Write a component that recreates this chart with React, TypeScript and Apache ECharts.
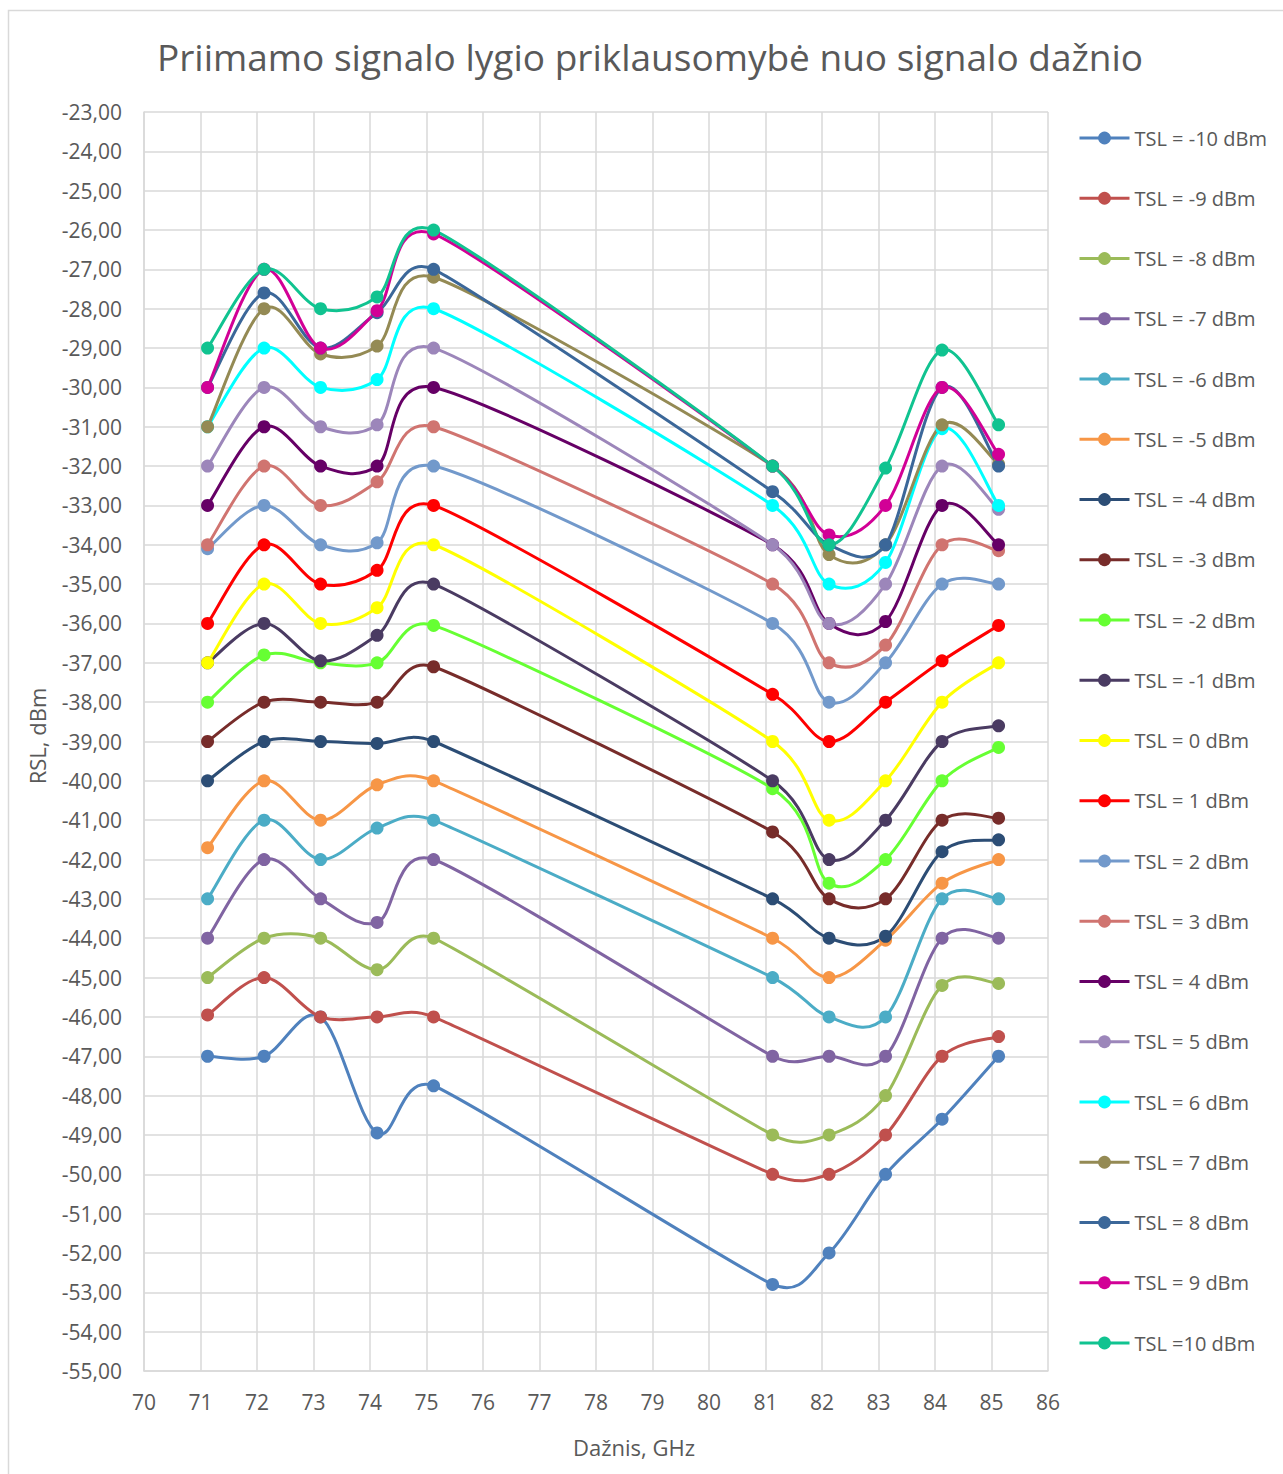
import React, { useEffect, useRef } from "react";
import * as echarts from "echarts";

// Measured frequencies, GHz
const frequencies = [71.125, 72.125, 73.125, 74.125, 75.125, 81.125, 82.125, 83.125, 84.125, 85.125];

// Received signal level (dBm) per transmitted signal level
const rslTslM10 = [-47, -47, -46, -48.95, -47.75, -52.8, -52, -50, -48.6, -47];
const rslTslM9 = [-45.95, -45, -46, -46, -46, -50, -50, -49, -47, -46.5];
const rslTslM8 = [-45, -44, -44, -44.8, -44, -49, -49, -48, -45.2, -45.15];
const rslTslM7 = [-44, -42, -43, -43.6, -42, -47, -47, -47, -44, -44];
const rslTslM6 = [-43, -41, -42, -41.2, -41, -45, -46, -46, -43, -43];
const rslTslM5 = [-41.7, -40, -41, -40.1, -40, -44, -45, -44.05, -42.6, -42];
const rslTslM4 = [-40, -39, -39, -39.05, -39, -43, -44, -43.95, -41.8, -41.5];
const rslTslM3 = [-39, -38, -38, -38, -37.1, -41.3, -43, -43, -41, -40.95];
const rslTslM2 = [-38, -36.8, -37, -37, -36.05, -40.2, -42.6, -42, -40, -39.15];
const rslTslM1 = [-37, -36, -36.95, -36.3, -35, -40, -42, -41, -39, -38.6];
const rslTsl0 = [-37, -35, -36, -35.6, -34, -39, -41, -40, -38, -37];
const rslTsl1 = [-36, -34, -35, -34.65, -33, -37.8, -39, -38, -36.95, -36.05];
const rslTsl2 = [-34.1, -33, -34, -33.95, -32, -36, -38, -37, -35, -35];
const rslTsl3 = [-34, -32, -33, -32.4, -31, -35, -37, -36.55, -34, -34.15];
const rslTsl4 = [-33, -31, -32, -32, -30, -34, -36, -35.95, -33, -34];
const rslTsl5 = [-32, -30, -31, -30.95, -29, -34, -36, -35, -32, -33.1];
const rslTsl6 = [-31, -29, -30, -29.8, -28, -33, -35, -34.45, -31.05, -33];
const rslTsl7 = [-31, -28, -29.15, -28.95, -27.2, -32, -34.25, -34, -30.95, -31.95];
const rslTsl8 = [-30, -27.6, -29, -28.1, -27, -32.65, -34, -34, -30, -32];
const rslTsl9 = [-30, -27, -29, -28.05, -26.1, -32, -33.75, -33, -30, -31.7];
const rslTsl10 = [-29, -27, -28, -27.7, -26, -32, -34, -32.05, -29.05, -30.95];

const seriesNames = [
  "TSL = -10 dBm", "TSL = -9 dBm", "TSL = -8 dBm", "TSL = -7 dBm", "TSL = -6 dBm",
  "TSL = -5 dBm", "TSL = -4 dBm", "TSL = -3 dBm", "TSL = -2 dBm", "TSL = -1 dBm",
  "TSL = 0 dBm", "TSL = 1 dBm", "TSL = 2 dBm", "TSL = 3 dBm", "TSL = 4 dBm",
  "TSL = 5 dBm", "TSL = 6 dBm", "TSL = 7 dBm", "TSL = 8 dBm", "TSL = 9 dBm",
  "TSL =10 dBm",
];

const seriesValues = [
  rslTslM10, rslTslM9, rslTslM8, rslTslM7, rslTslM6, rslTslM5, rslTslM4,
  rslTslM3, rslTslM2, rslTslM1, rslTsl0, rslTsl1, rslTsl2, rslTsl3, rslTsl4,
  rslTsl5, rslTsl6, rslTsl7, rslTsl8, rslTsl9, rslTsl10,
];

const seriesColors = [
  "#4F81BD", "#C0504D", "#9BBB59", "#8064A2", "#4BACC6", "#F79646", "#2C4D75",
  "#772C2A", "#66FF33", "#4A3B62", "#FFFF00", "#FF0000", "#7299CB", "#D07470",
  "#660066", "#9C86BA", "#00FFFF", "#948A54", "#3B6799", "#D20096", "#10C390",
];

const FONT = "'Open Sans', 'Liberation Sans', sans-serif";
const TEXT = "#595959";
const GRID_LINE = "#D9D9D9";

type Pt = number[];

// Smooth Bézier path through pixel points: tangent along (next - prev)/6,
// limited to half of the shorter neighbouring segment.
function smoothPath(pts: Pt[]): string {
  const n = pts.length;
  const dist = (a: Pt, b: Pt) => Math.hypot(b[0] - a[0], b[1] - a[1]);
  const tangents = pts.map((p, i) => {
    const prev = pts[Math.max(i - 1, 0)];
    const next = pts[Math.min(i + 1, n - 1)];
    const vx = next[0] - prev[0];
    const vy = next[1] - prev[1];
    const len = Math.hypot(vx, vy);
    if (len === 0) return [0, 0];
    let L = len / 6;
    if (i > 0) L = Math.min(L, dist(pts[i - 1], p) / 2);
    if (i < n - 1) L = Math.min(L, dist(p, pts[i + 1]) / 2);
    return [(vx / len) * L, (vy / len) * L];
  });
  let d = `M${pts[0][0]},${pts[0][1]}`;
  for (let i = 0; i < n - 1; i++) {
    const p0 = pts[i];
    const p1 = pts[i + 1];
    const c1 = [p0[0] + tangents[i][0], p0[1] + tangents[i][1]];
    const c2 = [p1[0] - tangents[i + 1][0], p1[1] - tangents[i + 1][1]];
    d += ` C${c1[0]},${c1[1]} ${c2[0]},${c2[1]} ${p1[0]},${p1[1]}`;
  }
  return d;
}

export default function App() {
  const ref = useRef<HTMLDivElement>(null);

  useEffect(() => {
    if (!ref.current) return;
    const chart = echarts.init(ref.current, null, { renderer: "svg" });

    const series: any[] = [];
    seriesNames.forEach((name, i) => {
      const values = seriesValues[i];
      const color = seriesColors[i];
      const points = frequencies.map((f, j) => [f, values[j]]);
      // smoothed curve
      series.push({
        type: "custom",
        name: `curve ${name}`,
        coordinateSystem: "cartesian2d",
        data: points,
        encode: { x: 0, y: 1 },
        silent: true,
        renderItem: (params: any, api: any) => {
          if (params.dataIndex !== 0) return null;
          const px = points.map((p) => api.coord(p));
          return {
            type: "path",
            shape: { pathData: smoothPath(px) },
            style: { fill: "none", stroke: color, lineWidth: 3, lineJoin: "round", lineCap: "round" },
          };
        },
      });
      // markers
      series.push({
        name,
        type: "line",
        data: points,
        symbol: "circle",
        symbolSize: 13,
        showSymbol: true,
        lineStyle: { width: 0, opacity: 0, color },
        itemStyle: { color },
        emphasis: { disabled: true },
      });
    });

    chart.setOption({
      animation: false,
      textStyle: { fontFamily: FONT },
      title: {
        text: "Priimamo signalo lygio priklausomybė nuo signalo dažnio",
        left: 645,
        top: 33,
        textAlign: "center",
        textStyle: { fontFamily: FONT, fontSize: 37, fontWeight: "normal", color: TEXT },
      },
      legend: {
        orient: "vertical",
        left: 1078,
        top: 128,
        padding: 0,
        itemWidth: 50,
        itemHeight: 16,
        itemGap: 40.25,
        lineStyle: { width: 3, opacity: 1 },
        textStyle: { fontFamily: FONT, fontSize: 20, color: TEXT, lineHeight: 20 },
        data: seriesNames,
      },
      grid: { left: 144, top: 112, width: 904, height: 1259, containLabel: false },
      xAxis: {
        type: "value",
        min: 70,
        max: 86,
        interval: 1,
        axisLine: { show: true, lineStyle: { color: GRID_LINE, width: 1.5 } },
        axisTick: { show: false },
        axisLabel: { color: TEXT, fontSize: 21, fontFamily: FONT, margin: 20 },
        splitLine: { show: true, lineStyle: { color: GRID_LINE, width: 1.5 } },
      },
      yAxis: {
        type: "value",
        min: -55,
        max: -23,
        interval: 1,
        axisLine: { show: true, lineStyle: { color: GRID_LINE, width: 1.5 } },
        axisTick: { show: false },
        axisLabel: {
          color: TEXT,
          fontSize: 21,
          fontFamily: FONT,
          margin: 22,
          formatter: (v: number) => v.toFixed(2).replace(".", ","),
        },
        splitLine: { show: true, lineStyle: { color: GRID_LINE, width: 1.5 } },
      },
      graphic: [
        {
          type: "rect",
          silent: true,
          shape: { x: 8.5, y: 10.5, width: 1300, height: 1500 },
          style: { fill: "none", stroke: GRID_LINE, lineWidth: 1.5 },
        },
        {
          type: "text",
          x: 634,
          y: 1447,
          style: {
            text: "Dažnis, GHz",
            fontFamily: FONT,
            fontSize: 22,
            fill: TEXT,
            textAlign: "center",
            textVerticalAlign: "middle",
          },
        },
        {
          type: "text",
          x: 37,
          y: 736,
          rotation: Math.PI / 2,
          style: {
            text: "RSL, dBm",
            fontFamily: FONT,
            fontSize: 22,
            fill: TEXT,
            textAlign: "center",
            textVerticalAlign: "middle",
          },
        },
      ],
      series,
    });

    return () => chart.dispose();
  }, []);

  return (
    <div
      ref={ref}
      style={{ position: "absolute", left: 0, top: 0, width: 1283, height: 1474 }}
    />
  );
}
